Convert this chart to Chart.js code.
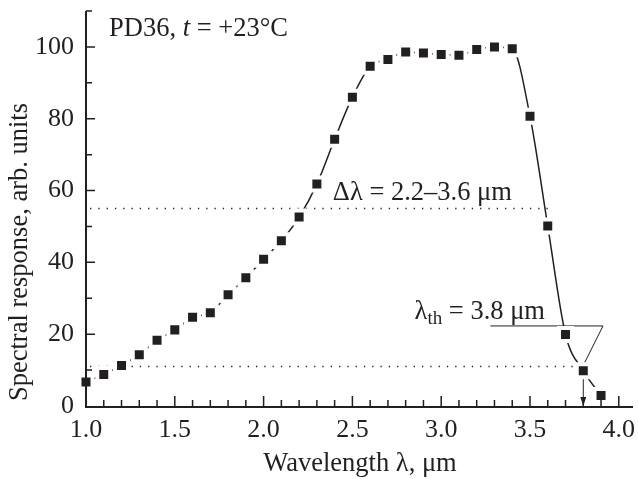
<!DOCTYPE html>
<html>
<head>
<meta charset="utf-8">
<script src="https://cdn.jsdelivr.net/npm/chart.js@4/dist/chart.umd.min.js"></script>
<style>
  html, body { margin: 0; padding: 0; background: #fff; }
  #wrap { width: 638px; height: 479px; }
</style>
</head>
<body>
<div id="wrap"><canvas id="chart" width="638" height="479"></canvas></div>
<script>
const wavelength = [1.0, 1.1, 1.2, 1.3, 1.4, 1.5, 1.6, 1.7, 1.8, 1.9,
                    2.0, 2.1, 2.2, 2.3, 2.4, 2.5, 2.6, 2.7, 2.8, 2.9,
                    3.0, 3.1, 3.2, 3.3, 3.4, 3.5, 3.6, 3.7, 3.8, 3.9];
const response = [6.7, 8.8, 11.3, 14.3, 18.3, 21.2, 24.7, 26.0, 31.0, 35.7,
                  40.9, 46.0, 52.6, 61.8, 74.3, 86.0, 94.6, 96.5, 98.6, 98.3,
                  97.9, 97.7, 99.3, 100, 99.5, 80.7, 50.1, 19.9, 9.8, 2.9];
const xTicks = [1.0, 1.5, 2.0, 2.5, 3.0, 3.5, 4.0];
const yTicks = [0, 20, 40, 60, 80, 100];

const bandLevel = 55, bandEnd = 3.6;
const thLevel = 11, thWave = 3.8;

const ink = '#231f20';
const serif = '"Liberation Serif", "DejaVu Serif", serif';

const extras = {
  id: 'extras',
  beforeDatasetsDraw(chart) {
    const { ctx, scales: { x, y } } = chart;
    ctx.save();
    ctx.strokeStyle = ink;
    ctx.fillStyle = ink;

    // dotted guide lines
    ctx.lineWidth = 1.3;
    ctx.setLineDash([1.3, 7]);
    ctx.beginPath();
    ctx.moveTo(x.getPixelForValue(1.0) + 4, y.getPixelForValue(bandLevel));
    ctx.lineTo(x.getPixelForValue(bandEnd), y.getPixelForValue(bandLevel));
    ctx.moveTo(x.getPixelForValue(1.0) + 4, y.getPixelForValue(thLevel));
    ctx.lineTo(x.getPixelForValue(3.77), y.getPixelForValue(thLevel));
    ctx.stroke();
    ctx.setLineDash([]);

    // threshold leader
    ctx.lineWidth = 1;
    ctx.beginPath();
    ctx.moveTo(x.getPixelForValue(3.277), y.getPixelForValue(22.3));
    ctx.lineTo(x.getPixelForValue(3.911), y.getPixelForValue(22.3));
    ctx.lineTo(x.getPixelForValue(3.80), y.getPixelForValue(11.3));
    ctx.stroke();

    // arrow down to the axis
    const ax = x.getPixelForValue(thWave);
    const ay = y.getPixelForValue(0);
    ctx.beginPath();
    ctx.moveTo(ax, y.getPixelForValue(9));
    ctx.lineTo(ax, ay - 6);
    ctx.stroke();
    ctx.beginPath();
    ctx.moveTo(ax, ay);
    ctx.lineTo(ax - 3, ay - 9);
    ctx.lineTo(ax + 3, ay - 9);
    ctx.closePath();
    ctx.fill();

    // text
    const fs = 26.5;
    ctx.textBaseline = 'alphabetic';
    ctx.textAlign = 'left';
    let tx = x.getPixelForValue(1.13), ty = y.getPixelForValue(103);
    ctx.font = fs + 'px ' + serif;
    ctx.fillText('PD36, ', tx, ty);
    tx += ctx.measureText('PD36, ').width;
    ctx.font = 'italic ' + fs + 'px ' + serif;
    ctx.fillText('t', tx, ty);
    tx += ctx.measureText('t').width;
    ctx.font = fs + 'px ' + serif;
    ctx.fillText(' = +23\u00B0C', tx, ty);

    ctx.fillText('\u0394\u03BB = 2.2\u20133.6 \u03BCm', x.getPixelForValue(2.39), y.getPixelForValue(57.3));

    tx = x.getPixelForValue(2.85); ty = y.getPixelForValue(24.2);
    ctx.fillText('\u03BB', tx, ty);
    tx += ctx.measureText('\u03BB').width;
    ctx.font = '19px ' + serif;
    ctx.fillText('th', tx, ty + 5);
    tx += ctx.measureText('th').width;
    ctx.font = fs + 'px ' + serif;
    ctx.fillText(' = 3.8 \u03BCm', tx, ty);

    // axis titles
    ctx.textAlign = 'center';
    ctx.fillText('Wavelength \u03BB, \u03BCm', 360, 471);
    ctx.save();
    ctx.translate(27, 252);
    ctx.rotate(-Math.PI / 2);
    ctx.fillText('Spectral response, arb. units', 0, 0);
    ctx.restore();
    ctx.restore();
  },
  afterDatasetsDraw(chart) {
    const { ctx, chartArea: a, scales: { x, y } } = chart;
    ctx.save();
    ctx.strokeStyle = ink;
    ctx.lineWidth = 2;
    const x0 = x.getPixelForValue(1.0), y0 = y.getPixelForValue(0);
    ctx.beginPath();
    ctx.moveTo(x0, a.top);
    ctx.lineTo(x0, y0 + 1);
    ctx.lineTo(a.right, y0 + 1);
    ctx.stroke();
    ctx.lineWidth = 1.5;
    ctx.beginPath();
    for (let i = 11; i <= 40; i++) {
      const px = x.getPixelForValue(i / 10);
      const len = i % 5 === 0 ? 10 : 6;
      ctx.moveTo(px, y0);
      ctx.lineTo(px, y0 - len);
    }
    for (let v = 10; v <= 110; v += 10) {
      const py = y.getPixelForValue(v);
      const len = v % 20 === 0 ? 9 : 6;
      ctx.moveTo(x0, py);
      ctx.lineTo(x0 + len, py);
    }
    ctx.stroke();
    ctx.restore();
  }
};

new Chart(document.getElementById('chart'), {
  type: 'line',
  data: {
    datasets: [{
      data: wavelength.map((w, i) => ({ x: w, y: response[i] })),
      borderColor: ink,
      borderWidth: 1.5,
      cubicInterpolationMode: 'monotone',
      pointStyle: 'rect',
      pointRadius: 9.2,
      pointBackgroundColor: ink,
      pointBorderColor: '#fff',
      pointBorderWidth: 4,
      clip: false
    }]
  },
  options: {
    responsive: false,
    animation: false,
    events: [],
    layout: { autoPadding: false, padding: { top: 11, right: 5, left: 0, bottom: 0 } },
    plugins: { legend: { display: false }, tooltip: { enabled: false } },
    scales: {
      x: {
        type: 'linear',
        min: 1.0,
        max: 4.08,
        grid: { display: false, drawTicks: false },
        border: { display: false },
        afterBuildTicks: s => { s.ticks = xTicks.map(v => ({ value: v })); },
        afterFit: s => { s.height = 73; s.paddingLeft = 0; s.paddingRight = 0; },
        ticks: {
          color: ink,
          padding: 9,
          maxRotation: 0,
          font: { family: serif, size: 26 },
          callback: v => v.toFixed(1)
        }
      },
      y: {
        min: 0,
        max: 110,
        grid: { display: false, drawTicks: false },
        border: { display: false },
        afterBuildTicks: s => { s.ticks = yTicks.map(v => ({ value: v })); },
        afterFit: s => { s.width = 86; s.paddingTop = 0; s.paddingBottom = 0; },
        ticks: {
          color: ink,
          padding: 12,
          font: { family: serif, size: 26 }
        }
      }
    }
  },
  plugins: [extras]
});
</script>
</body>
</html>
